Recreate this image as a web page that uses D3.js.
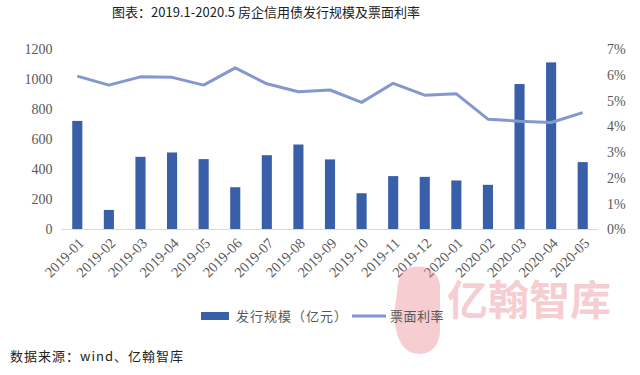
<!DOCTYPE html>
<html>
<head>
<meta charset="utf-8">
<script src="https://d3js.org/d3.v7.min.js"></script>
<style>
    body { margin: 0; background: #fff; }
</style>
</head>
<body>
<svg id="chart" width="640" height="375"></svg>
<script>
    var months = ["2019-01", "2019-02", "2019-03", "2019-04", "2019-05", "2019-06", "2019-07", "2019-08", "2019-09",
        "2019-10", "2019-11", "2019-12", "2020-01", "2020-02", "2020-03", "2020-04", "2020-05"];
    // 发行规模（亿元）
    var issue = [722, 130, 483, 512, 468, 281, 494, 565, 466, 241, 355, 350, 326, 297, 967, 1111, 448];
    // 票面利率 (%)
    var rate = [5.95, 5.60, 5.92, 5.90, 5.60, 6.27, 5.65, 5.34, 5.41, 4.93, 5.67, 5.21, 5.26, 4.28, 4.20, 4.15, 4.53];
    var leftTicks = [0, 200, 400, 600, 800, 1000, 1200];
    var rightTicks = [0, 1, 2, 3, 4, 5, 6, 7];

    var serif = "Liberation Serif";
    var cn = "Noto Sans CJK SC";

    var svg = d3.select("#chart");
    var plotTop = 49, plotBottom = 229.5, plotLeft = 61.5, plotRight = 598.5;

    var x = d3.scaleBand().domain(months).range([plotLeft, plotRight]).paddingInner(0.68).paddingOuter(0.34);
    var y = d3.scaleLinear().domain([0, 1200]).range([plotBottom, plotTop]);
    var y2 = d3.scaleLinear().domain([0, 7]).range([plotBottom, plotTop]);

    // title
    svg.append("text")
        .attr("x", 266).attr("y", 17).attr("text-anchor", "middle")
        .attr("font-family", cn).attr("font-size", 13).attr("fill", "#222")
        .text("图表：2019.1-2020.5 房企信用债发行规模及票面利率");

    // left axis
    var ax = svg.append("g").attr("transform", "translate(" + (plotLeft - 9) + ",0)")
        .call(d3.axisLeft(y).tickValues(leftTicks).tickSize(0).tickPadding(0).tickFormat(d3.format("d")))
        .attr("font-family", serif).attr("font-size", 14);
    ax.select(".domain").remove();
    ax.selectAll("text").attr("fill", "#595959");

    // right axis
    var ax2 = svg.append("g").attr("transform", "translate(607,0)")
        .call(d3.axisRight(y2).tickValues(rightTicks).tickSize(0).tickPadding(0).tickFormat(function (d) { return d + "%"; }))
        .attr("font-family", serif).attr("font-size", 14);
    ax2.select(".domain").remove();
    ax2.selectAll("text").attr("fill", "#595959");

    // bars
    svg.append("g").selectAll("rect")
        .data(issue)
        .enter().append("rect")
        .attr("x", function (d, i) { return x(months[i]); })
        .attr("y", function (d) { return y(d); })
        .attr("width", x.bandwidth())
        .attr("height", function (d) { return y(0) - y(d); })
        .attr("fill", "#3a5fa9");

    // baseline
    svg.append("line").attr("x1", plotLeft).attr("x2", plotRight).attr("y1", plotBottom).attr("y2", plotBottom)
        .attr("stroke", "#d9d9d9").attr("stroke-width", 1);

    // rate line
    var line = d3.line()
        .x(function (d, i) { return x(months[i]) + x.bandwidth() / 2; })
        .y(function (d) { return y2(d); });
    svg.append("path").datum(rate)
        .attr("d", line)
        .attr("fill", "none")
        .attr("stroke", "#8497cf")
        .attr("stroke-width", 3)
        .attr("stroke-linejoin", "round");

    // x labels
    svg.append("g").attr("font-family", serif).attr("font-size", 14.5).attr("fill", "#595959")
        .selectAll("text")
        .data(months)
        .enter().append("text")
        .attr("transform", function (d) {
            return "translate(" + (x(d) + x.bandwidth() / 2 + 4) + "," + (plotBottom + 11) + ") rotate(-45)";
        })
        .attr("text-anchor", "end")
        .attr("dy", "0.35em")
        .text(function (d) { return d; });

    // watermark (behind legend text)
    var wm = svg.append("g").attr("opacity", 0.38);
    wm.append("path")
        .attr("d", "M404,270 C420,262 438,268 440,285 L440,330 C440,350 425,358 410,352 C396,345 392,320 396,300 C398,285 398,275 404,270 Z")
        .attr("fill", "#e8808a");
    wm.append("text").attr("x", 447).attr("y", 315)
        .attr("font-family", cn).attr("font-size", 41).attr("font-weight", "bold").attr("fill", "#e8808a")
        .text("亿翰智库");

    // legend
    var lg = svg.append("g").attr("font-family", cn).attr("font-size", 13).attr("fill", "#595959");
    lg.append("rect").attr("x", 201).attr("y", 312).attr("width", 28).attr("height", 8).attr("fill", "#3a5fa9");
    lg.append("text").attr("x", 236).attr("y", 320.5).attr("letter-spacing", 1)
        .text("发行规模（亿元）");
    lg.append("line").attr("x1", 352).attr("x2", 386).attr("y1", 316).attr("y2", 316)
        .attr("stroke", "#8497cf").attr("stroke-width", 3);
    lg.append("text").attr("x", 390).attr("y", 320.5).attr("letter-spacing", 0.5)
        .text("票面利率");

    // source
    svg.append("text").attr("x", 10).attr("y", 361)
        .attr("font-family", cn).attr("font-size", 13).attr("fill", "#222").attr("letter-spacing", 1)
        .text("数据来源：wind、亿翰智库");
</script>
</body>
</html>
